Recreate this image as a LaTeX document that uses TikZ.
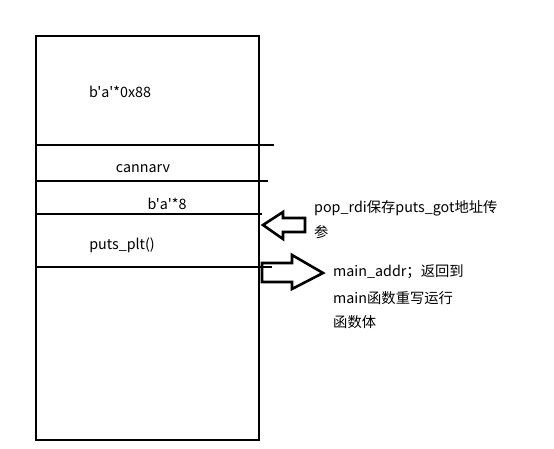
\documentclass[tikz,border=0pt]{standalone}
\usepackage{fontspec}
\setmainfont{Noto Sans CJK SC}[Ligatures=TeXOff]
\usetikzlibrary{positioning}

\tikzset{
  frame/.style={line width=2.8pt},
  sep/.style={line width=2pt},
  blockarrow/.style={line width=2.6pt, line join=miter},
  lbl/.style={inner sep=0pt},
}

\begin{document}
\begin{tikzpicture}[x=1pt, y=-1pt, font=\fontsize{14.3}{16}\selectfont]
    \useasboundingbox (0,0) rectangle (554,449);

    % stack frame
    \draw[frame] (36,36) rectangle (259,440);
    \draw[sep] (36,145) -- (274,145);
    \draw[sep] (36,181) -- (268,181);
    \draw[sep] (36,214) -- (262,214);
    \draw[sep] (36,267) -- (272,267);

    \node[lbl] (pad) at (120,92) {b'a'*0x88};
    \node[lbl] (canary) at (143,169) {cannarv};
    \node[lbl] (rbp) at (167,204) {b'a'*8};
    \node[lbl] (plt) at (122,245) {puts\_plt()};

    % arrows
    \draw[blockarrow] (263,225) -- (283,212) -- (283,218) -- (305,218)
        -- (305,232) -- (283,232) -- (283,239) -- cycle;
    \draw[blockarrow] (262,263) -- (292,263) -- (292,255) -- (323,273)
        -- (292,289) -- (292,282) -- (262,282) -- cycle;

    \node[lbl, anchor=west] (pop) at (314,208) {pop\_rdi保存puts\_got地址传};
    \node[lbl, anchor=west] (pop2) at (314,232) {参};

    \node[lbl, anchor=west] (ret) at (333,272) {main\_addr；返回到};
    \node[lbl, anchor=west] (ret2) at (333,298) {main函数重写运行};
    \node[lbl, anchor=west] (ret3) at (333,322) {函数体};

\end{tikzpicture}
\end{document}
